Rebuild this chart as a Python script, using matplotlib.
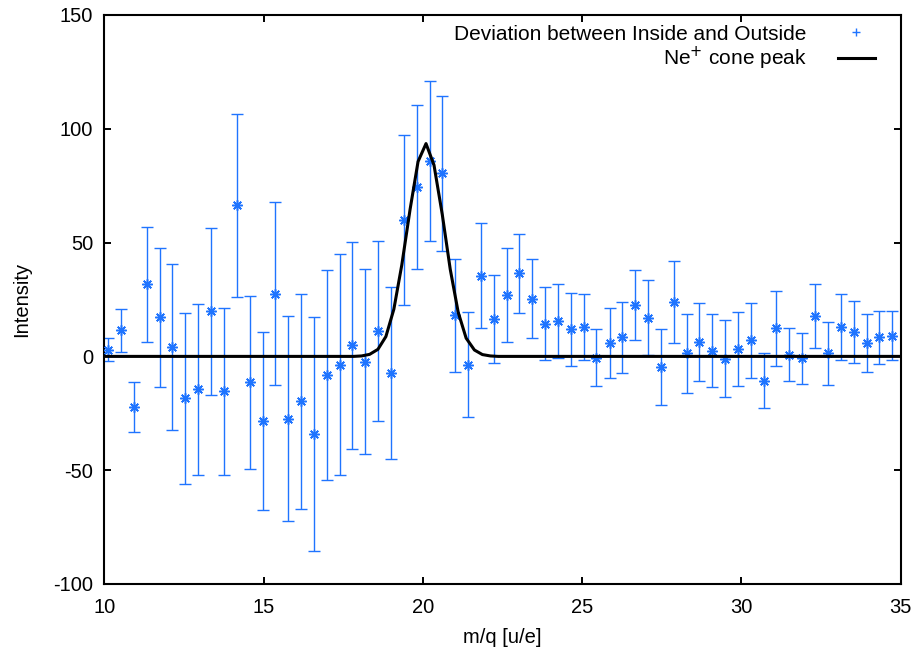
import matplotlib
matplotlib.use("Agg")
import matplotlib.pyplot as plt
from matplotlib.lines import Line2D

plt.rcParams['font.family'] = ['Liberation Sans', 'DejaVu Sans']
plt.rcParams['axes.unicode_minus'] = False

# measured deviation (inside - outside) with error bars
mq = [10.13, 10.53, 10.93, 11.34, 11.74, 12.14, 12.55, 12.95, 13.35, 13.76,
      14.16, 14.56, 14.97, 15.37, 15.77, 16.18, 16.58, 16.98, 17.39, 17.79,
      18.19, 18.60, 19.00, 19.40, 19.81, 20.21, 20.61, 21.02, 21.42, 21.82,
      22.23, 22.63, 23.03, 23.44, 23.84, 24.24, 24.65, 25.05, 25.45, 25.86,
      26.26, 26.67, 27.07, 27.47, 27.88, 28.28, 28.68, 29.09, 29.49, 29.89,
      30.30, 30.70, 31.10, 31.51, 31.91, 32.31, 32.72, 33.12, 33.52, 33.93,
      34.33, 34.73]
deviation = [2.9, 11.4, -22.2, 31.6, 17.1, 4.2, -18.4, -14.5, 19.8, -15.4,
             66.3, -11.4, -28.4, 27.6, -27.3, -19.7, -34.2, -8.2, -3.6, 4.8,
             -2.3, 11.2, -7.3, 59.8, 74.4, 85.8, 80.4, 18.0, -3.6, 35.5,
             16.4, 27.0, 36.5, 25.4, 14.4, 15.5, 12.0, 12.8, -0.6, 5.9,
             8.4, 22.4, 16.9, -4.6, 24.0, 1.4, 6.5, 2.5, -1.1, 3.4,
             7.0, -10.6, 12.4, 0.8, -0.8, 17.9, 1.4, 12.9, 10.8, 5.9,
             8.4, 9.1]
dev_err = [5.1, 9.3, 10.8, 25.1, 30.4, 36.5, 37.6, 37.5, 36.8, 36.5,
           40.0, 37.9, 39.0, 40.1, 44.9, 47.3, 51.4, 46.2, 48.6, 45.3,
           40.7, 39.4, 37.7, 37.4, 36.0, 35.2, 33.9, 24.7, 23.2, 23.2,
           19.3, 20.8, 17.4, 17.5, 16.2, 16.2, 16.0, 14.6, 12.6, 15.3,
           15.7, 15.4, 16.5, 16.7, 18.1, 17.4, 17.1, 16.1, 16.9, 16.2,
           16.3, 12.1, 16.5, 11.8, 11.2, 14.1, 13.9, 14.5, 13.5, 12.6,
           11.6, 10.7]

# Ne+ cone peak curve, read at the plotted sample points
peak_x = [10.0, 17.83, 18.08, 18.33, 18.59, 18.84, 19.09, 19.34, 19.60,
          19.85, 20.10, 20.35, 20.61, 20.86, 21.11, 21.36, 21.62, 21.87,
          22.12, 22.37, 35.0]
peak_y = [0.0, 0.0, 0.2, 0.9, 3.1, 8.7, 20.7, 40.2, 64.6,
          85.6, 93.5, 84.1, 62.4, 38.3, 19.4, 8.0, 2.8, 0.8,
          0.2, 0.0, 0.0]

blue = '#1f74ff'
fs = 14.5

fig = plt.figure(figsize=(9.17, 6.52), dpi=100)
ax = fig.add_axes([0.1137, 0.1043, 0.8685, 0.8727])

ax.errorbar(mq, deviation, yerr=dev_err, fmt='none', ecolor=blue,
            elinewidth=1.0, capsize=4.0, capthick=1.0, zorder=2)
ax.plot(mq, deviation, linestyle='none', marker=(8, 2, 0), markersize=7.5,
        markeredgewidth=1.1, color=blue, zorder=3)
ax.plot(peak_x, peak_y, color='black', linewidth=2.2, zorder=4)

ax.set_xlim(10, 35)
ax.set_ylim(-100, 150)
ax.set_xticks([10, 15, 20, 25, 30, 35])
ax.set_yticks([-100, -50, 0, 50, 100, 150])
ax.tick_params(direction='in', length=5, width=1.4, top=True, right=True,
               labelsize=fs)
ax.tick_params(axis='x', pad=10)
ax.tick_params(axis='y', pad=8)
for s in ax.spines.values():
    s.set_linewidth(1.5)

ax.set_xlabel('m/q [u/e]', fontsize=fs, labelpad=8)
ax.set_ylabel('Intensity', fontsize=fs, labelpad=16)

handles = [Line2D([], [], linestyle='none', marker='+', markersize=6,
                  markeredgewidth=1.0, color=blue),
           Line2D([], [], color='black', linewidth=2.2)]
labels = ['Deviation between Inside and Outside', 'Ne$^{+}$ cone peak']
ax.legend(handles, labels, loc='upper right', bbox_to_anchor=(0.968, 0.983),
          frameon=False, markerfirst=False,
          fontsize=15, handlelength=1.8, handletextpad=1.5,
          labelspacing=0.05, borderaxespad=0.0, borderpad=0.0)

fig.savefig('out.png', dpi=100)
